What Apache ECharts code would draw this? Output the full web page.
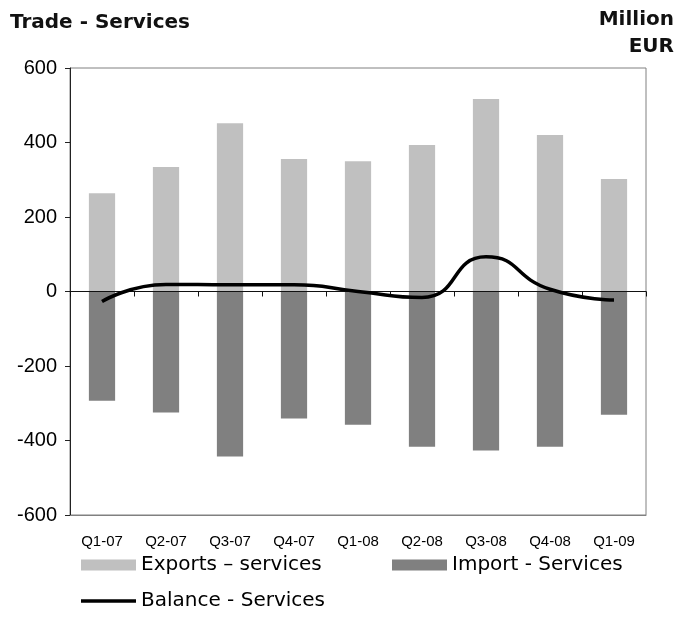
<!DOCTYPE html>
<html>
<head>
<meta charset="utf-8">
<script src="https://cdn.jsdelivr.net/npm/echarts@6/dist/echarts.min.js"></script>
<style>
  html, body { margin: 0; padding: 0; background: #fff; }
  #chart { width: 683px; height: 631px; }
</style>
</head>
<body>
<div id="chart"></div>
<script>
// Quarterly services trade, million EUR
const categories = ['Q1-07', 'Q2-07', 'Q3-07', 'Q4-07', 'Q1-08', 'Q2-08', 'Q3-08', 'Q4-08', 'Q1-09'];
const exportsServices = [264, 334, 452, 356, 350, 393, 517, 420, 302];
const importServices = [-293, -325, -443, -341, -358, -417, -427, -417, -331];
const balanceServices = [-27, 19, 18, 18, 0, -16, 93, 6, -23];
const yMin = -600;
const yMax = 600;
const yStep = 200;

const seriesNames = {
  exp: 'Exports – services',
  imp: 'Import - Services',
  bal: 'Balance - Services'
};

const sansNarrow = '"Liberation Sans", Arial, sans-serif';
const sansWide = '"DejaVu Sans", Verdana, sans-serif';

const chart = echarts.init(document.getElementById('chart'), null, { renderer: 'canvas' });

const legendText = {
  fontSize: 20,
  fontFamily: sansWide,
  color: '#000'
};

chart.setOption({
  animation: false,
  backgroundColor: '#fff',
  textStyle: { fontFamily: sansNarrow },
  title: {
    text: 'Trade - Services',
    left: 5,
    top: 8,
    textStyle: { fontFamily: sansWide, fontWeight: 'bold', fontSize: 20, color: '#111' }
  },
  graphic: [{
    type: 'text',
    x: 674,
    y: 6,
    style: {
      text: 'Million\nEUR',
      align: 'right',
      verticalAlign: 'top',
      fontFamily: sansWide,
      fontWeight: 'bold',
      fontSize: 20,
      lineHeight: 27,
      fill: '#111'
    }
  }],
  grid: {
    left: 70,
    right: 37,
    top: 68,
    bottom: 116,
    show: true,
    borderColor: '#808080',
    borderWidth: 1,
    backgroundColor: 'transparent'
  },
  legend: [
    {
      data: [{ name: seriesNames.exp, icon: 'rect' }],
      left: 76, top: 550, itemWidth: 55, itemHeight: 11,
      textStyle: legendText
    },
    {
      data: [{ name: seriesNames.imp, icon: 'rect' }],
      left: 387, top: 550, itemWidth: 55, itemHeight: 11,
      textStyle: legendText
    },
    {
      data: [{ name: seriesNames.bal, icon: 'rect' }],
      left: 76, top: 586, itemWidth: 55, itemHeight: 3.5,
      textStyle: legendText
    }
  ],
  xAxis: [
    {
      // zero line with category separators
      type: 'category',
      data: categories,
      boundaryGap: true,
      position: 'bottom',
      z: 3,
      axisLine: { show: true, onZero: true, lineStyle: { color: '#111', width: 1 } },
      axisTick: { show: true, interval: 0, length: 5, lineStyle: { color: '#111' } },
      axisLabel: { show: false },
      splitLine: { show: false }
    },
    {
      // category labels along the bottom edge
      type: 'category',
      data: categories,
      boundaryGap: true,
      position: 'bottom',
      axisLine: { show: true, onZero: false, lineStyle: { color: '#808080', width: 1 } },
      axisTick: { show: false },
      axisLabel: { show: true, interval: 0, fontSize: 15, color: '#000', margin: 19, fontFamily: sansNarrow },
      splitLine: { show: false }
    }
  ],
  yAxis: {
    type: 'value',
    min: yMin,
    max: yMax,
    interval: yStep,
    axisLine: { show: true, lineStyle: { color: '#222', width: 1 } },
    axisTick: { show: true, inside: false, length: 5, lineStyle: { color: '#222' } },
    axisLabel: { fontSize: 20, color: '#000', margin: 13, fontFamily: sansNarrow },
    splitLine: { show: false }
  },
  series: [
    {
      name: seriesNames.exp,
      type: 'bar',
      xAxisIndex: 0,
      stack: 'services',
      barWidth: '41%',
      itemStyle: { color: '#C0C0C0' },
      data: exportsServices
    },
    {
      name: seriesNames.imp,
      type: 'bar',
      xAxisIndex: 0,
      stack: 'services',
      barWidth: '41%',
      itemStyle: { color: '#808080' },
      data: importServices
    },
    {
      name: seriesNames.bal,
      type: 'line',
      xAxisIndex: 0,
      smooth: 0.55,
      symbol: 'none',
      z: 5,
      lineStyle: { color: '#000', width: 3.5 },
      itemStyle: { color: '#000' },
      data: balanceServices
    }
  ]
});
</script>
</body>
</html>
